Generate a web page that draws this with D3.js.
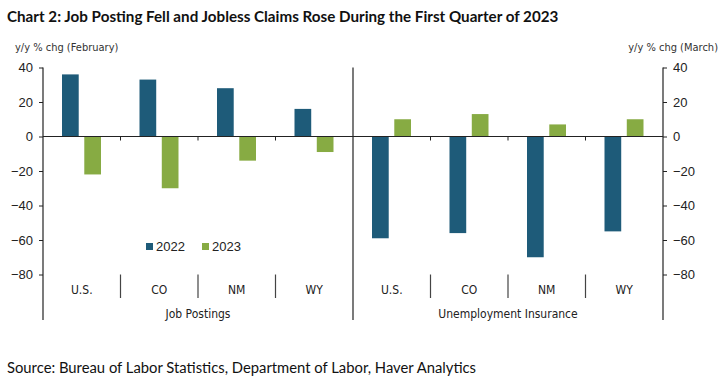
<!DOCTYPE html>
<html>
<head>
<meta charset="utf-8">
<script src="https://cdn.jsdelivr.net/npm/d3@7"></script>
<style>
  body { margin: 0; background: #fff; }
  svg { display: block; }
  .narrow { font-family: "Liberation Sans Narrow", "DejaVu Sans Condensed", sans-serif; }
</style>
</head>
<body>
<div id="chart"></div>
<script>
var panels = ["Job Postings", "Unemployment Insurance"]
var states = ["U.S.", "CO", "NM", "WY"]
var years = ["2022", "2023"]
var jobPostings2022 = [36, 33, 28, 16]
var jobPostings2023 = [-22, -30, -14, -9]
var ui2022 = [-59, -56, -70, -55]
var ui2023 = [10, 13, 7, 10]
var yTicks = [40, 20, 0, -20, -40, -60, -80]
var colors = ["#1e5b79", "#87ab43"]

function init() {
    var w = 725
    var h = 390
    var left = 43, right = 663, top = 67.5, bottom = 274.5, axisEnd = 320

    var series = [[jobPostings2022, jobPostings2023], [ui2022, ui2023]]
    var data = []
    panels.forEach((p, pi) => {
        states.forEach((s, si) => {
            years.forEach((yr, yi) => {
                data.push({panel: p, state: s, year: yr, yi: yi, value: series[pi][yi][si]})
            })
        })
    })

    var svg = d3.select("#chart")
                .append("svg")
                .attr("width", w)
                .attr("height", h)

    var y = d3.scaleLinear().domain([-80, 40]).range([bottom, top])
    var xPanel = d3.scaleBand().domain(panels).range([left, right])
    var xState = d3.scaleBand().domain(states).range([0, xPanel.bandwidth()])
    var xYear = d3.scaleBand().domain(years).range([19, 58]).paddingInner(0.25)

    // title
    svg.append("text")
        .attr("x", 7).attr("y", 22)
        .attr("font-family", "Lato, sans-serif")
        .attr("font-weight", "bold")
        .attr("font-size", "15.2px")
        .attr("fill", "#111")
        .text("Chart 2: Job Posting Fell and Jobless Claims Rose During the First Quarter of 2023")

    svg.append("text")
        .attr("class", "narrow")
        .attr("x", 15).attr("y", 51)
        .attr("font-size", "11px").attr("fill", "#333")
        .text("y/y % chg (February)")
    svg.append("text")
        .attr("class", "narrow")
        .attr("x", 718).attr("y", 51)
        .attr("text-anchor", "end")
        .attr("font-size", "11px").attr("fill", "#333")
        .text("y/y % chg (March)")

    // bars
    svg.selectAll("rect.bar")
        .data(data)
        .enter()
        .append("rect")
        .attr("class", "bar")
        .attr("x", d => xPanel(d.panel) + xState(d.state) + xYear(d.year))
        .attr("y", d => y(Math.max(0, d.value)))
        .attr("width", xYear.bandwidth())
        .attr("height", d => Math.abs(y(d.value) - y(0)))
        .attr("fill", d => colors[d.yi])

    // axes
    var leftAxis = d3.axisLeft(y).tickValues(yTicks).tickSize(4).tickSizeOuter(0)
    var rightAxis = d3.axisRight(y).tickValues(yTicks).tickSize(4).tickSizeOuter(0)
    var gl = svg.append("g").attr("transform", `translate(${left},0)`).call(leftAxis)
    var gr = svg.append("g").attr("transform", `translate(${right},0)`).call(rightAxis)
    ;[gl, gr].forEach(g => {
        g.select(".domain").remove()
        g.selectAll("text")
            .attr("font-family", "Liberation Sans, Arial, sans-serif")
            .attr("font-size", "13px")
            .attr("fill", "#222")
        g.selectAll(".tick line").attr("stroke", "#222")
    })
    gl.selectAll("text").attr("x", -10)
    gr.selectAll("text").attr("x", 10)

    // vertical axis lines and panel divider
    ;[left, xPanel(panels[1]), right].forEach(x => {
        svg.append("line")
            .attr("x1", x).attr("x2", x)
            .attr("y1", top).attr("y2", axisEnd)
            .attr("stroke", "#222").attr("stroke-width", 1.2)
    })

    // zero line
    svg.append("line")
        .attr("x1", left).attr("x2", right)
        .attr("y1", y(0)).attr("y2", y(0))
        .attr("stroke", "#222").attr("stroke-width", 1.2)

    // category ticks and separators
    panels.forEach(p => {
        states.slice(1).forEach(s => {
            var x = xPanel(p) + xState(s)
            svg.append("line")
                .attr("x1", x).attr("x2", x)
                .attr("y1", y(0)).attr("y2", y(0) + 4)
                .attr("stroke", "#222")
            svg.append("line")
                .attr("x1", x).attr("x2", x)
                .attr("y1", bottom).attr("y2", 298)
                .attr("stroke", "#444").attr("stroke-width", 1.2)
        })
        states.forEach(s => {
            svg.append("text")
                .attr("class", "narrow")
                .attr("x", xPanel(p) + xState(s) + xState.bandwidth() / 2)
                .attr("y", 294)
                .attr("text-anchor", "middle")
                .attr("font-size", "12px").attr("fill", "#222")
                .text(s)
        })
        svg.append("text")
            .attr("class", "narrow")
            .attr("x", xPanel(p) + xPanel.bandwidth() / 2)
            .attr("y", 318)
            .attr("text-anchor", "middle")
            .attr("font-size", "12px").attr("fill", "#222")
            .text(p)
    })

    // legend
    var legend = svg.append("g").attr("transform", "translate(146,248)")
    years.forEach((yr, i) => {
        var g = legend.append("g").attr("transform", `translate(${i * 56},0)`)
        g.append("rect").attr("x", 0).attr("y", -5).attr("width", 7).attr("height", 7).attr("fill", colors[i])
        g.append("text").attr("x", 10).attr("y", 3)
            .attr("font-family", "Liberation Sans, Arial, sans-serif")
            .attr("font-size", "13px").attr("fill", "#222")
            .text(yr)
    })

    // source
    svg.append("text")
        .attr("x", 7).attr("y", 373)
        .attr("font-family", "Lato, sans-serif")
        .attr("font-size", "14.8px").attr("fill", "#111")
        .text("Source: Bureau of Labor Statistics, Department of Labor, Haver Analytics")
}

window.onload = init;
</script>
</body>
</html>
